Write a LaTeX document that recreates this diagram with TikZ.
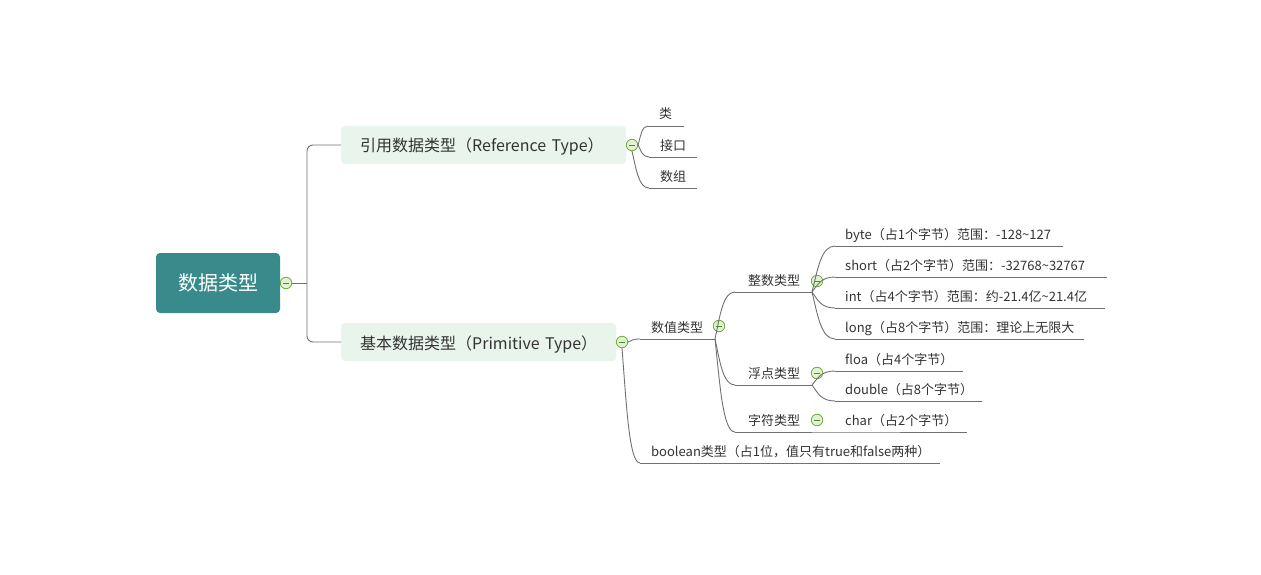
\documentclass[tikz,border=0pt]{standalone}
\usepackage{fontspec}
\setmainfont{Noto Sans CJK SC}
\usetikzlibrary{calc}
\definecolor{rootfill}{HTML}{388B8A}
\definecolor{boxfill}{HTML}{E9F4EC}
\definecolor{linec}{HTML}{707070}
\definecolor{txt}{HTML}{333333}
\definecolor{togline}{HTML}{6BAF3B}
\definecolor{togfill}{HTML}{E2F1D3}
\definecolor{togminus}{HTML}{4E8A2A}
\tikzset{
  conn/.style={draw=linec, line width=0.9pt},
  uline/.style={draw=linec, line width=0.9pt},
  rootbox/.style={rectangle, rounded corners=4pt, fill=rootfill, text=white, minimum width=124pt, minimum height=60pt, inner sep=0pt, font=\fontsize{20}{24}\selectfont},
  topbox/.style={rectangle, rounded corners=4pt, fill=boxfill, text=txt, minimum height=38pt, inner xsep=19pt, inner ysep=0pt, text height=14pt, text depth=0pt, align=left, font=\fontsize{16}{19}\selectfont},
  leaf/.style={anchor=base west, text=txt, inner sep=0pt, font=\fontsize{13}{16}\selectfont},
  tog/.style={circle, draw=togline, fill=togfill, line width=0.8pt, minimum size=11.5pt, inner sep=0pt,
    path picture={\draw[togminus, line width=0.9pt] ([xshift=-3.2pt]path picture bounding box.center) -- ([xshift=3.2pt]path picture bounding box.center);}},
}
\newcommand{\curv}[2]{\draw[conn] let \p1=(#1), \p2=(#2) in (\p1) .. controls ({\x1+0.25*(\x2-\x1)},{\y1+0.5*(\y2-\y1)}) and ({\x1+0.4*(\x2-\x1)},{\y2}) .. (\p2);}
\begin{document}
\begin{tikzpicture}[x=1pt,y=-1pt]
\useasboundingbox (0,0) rectangle (1261,575);
% root
\node[rootbox] (root) at (218,283) {数据类型};
\node[tog] (t0) at (286,283) {};
\coordinate (j0) at (307,283);
% top boxes
\node[topbox, anchor=west, text width=247pt] (ref) at (341,145) {引用数据类型（Reference Type）};
\node[topbox, anchor=west, text width=237pt] (prim) at (341,342) {基本数据类型（Primitive Type）};
\draw[conn] (root.east) -- (t0.west);
\draw[conn] (t0.east) -- (j0);
\draw[conn, rounded corners=6pt] (j0) |- (ref.west);
\draw[conn, rounded corners=6pt] (j0) |- (prim.west);
% reference children
\node[tog] (t1) at (632,145) {};
\coordinate (c1s) at (648,126); \coordinate (c1e) at (684,126);
\coordinate (c2s) at (649,157); \coordinate (c2e) at (697,157);
\coordinate (c3s) at (649,188); \coordinate (c3e) at (697,188);
\curv{t1.east}{c1s} \draw[uline] (c1s) -- (c1e);
\curv{t1.east}{c2s} \draw[uline] (c2s) -- (c2e);
\curv{t1.south}{c3s} \draw[uline] (c3s) -- (c3e);
\node[leaf] (n1) at ($(c1s)+(11,-7)$) {类};
\node[leaf] (n2) at ($(c2s)+(11,-7)$) {接口};
\node[leaf] (n3) at ($(c3s)+(11,-7)$) {数组};
% primitive children
\node[tog] (t2) at (622,342) {};
\coordinate (vs) at (640,339); \coordinate (ve) at (715,339);
\coordinate (bs) at (640,463); \coordinate (be) at (940,463);
\curv{t2.east}{vs} \draw[uline] (vs) -- (ve);
\curv{t2.south}{bs} \draw[uline] (bs) -- (be);
\node[leaf] (nv) at ($(vs)+(11,-7)$) {数值类型};
\node[tog] (t3) at (719,326) {};
\node[leaf] (nb) at ($(bs)+(11,-7)$) {boolean类型（占1位，值只有true和false两种）};
% numeric children
\coordinate (is) at (735,292); \coordinate (ie) at (812,292);
\coordinate (fs) at (735,385); \coordinate (fe) at (812,385);
\coordinate (cs) at (735,432); \coordinate (ce) at (812,432);
\curv{ve}{is} \draw[uline] (is) -- (ie);
\curv{ve}{fs} \draw[uline] (fs) -- (fe);
\curv{ve}{cs} \draw[uline] (cs) -- (ce);
\node[leaf] (ni) at ($(is)+(13,-7)$) {整数类型};
\node[leaf] (nf) at ($(fs)+(13,-7)$) {浮点类型};
\node[leaf] (nc) at ($(cs)+(13,-7)$) {字符类型};
\node[tog] (t4) at (817,281) {};
\node[tog] (t5) at (817,373) {};
\node[tog] (t6) at (817,420) {};
% integer children
\coordinate (i1s) at (835,246); \coordinate (i1e) at (1063,246);
\coordinate (i2s) at (835,277); \coordinate (i2e) at (1107,277);
\coordinate (i3s) at (835,308); \coordinate (i3e) at (1105,308);
\coordinate (i4s) at (835,339); \coordinate (i4e) at (1084,339);
\curv{ie}{i1s} \draw[uline] (i1s) -- (i1e);
\curv{ie}{i2s} \draw[uline] (i2s) -- (i2e);
\curv{ie}{i3s} \draw[uline] (i3s) -- (i3e);
\curv{ie}{i4s} \draw[uline] (i4s) -- (i4e);
\node[leaf] (ni1) at ($(i1s)+(10,-7)$) {byte（占1个字节）范围：-128\textasciitilde127};
\node[leaf] (ni2) at ($(i2s)+(10,-7)$) {short（占2个字节）范围：-32768\textasciitilde32767};
\node[leaf] (ni3) at ($(i3s)+(10,-7)$) {int（占4个字节）范围：约-21.4亿\textasciitilde21.4亿};
\node[leaf] (ni4) at ($(i4s)+(10,-7)$) {long（占8个字节）范围：理论上无限大};
% float children
\coordinate (f1s) at (835,371); \coordinate (f1e) at (963,371);
\coordinate (f2s) at (835,401); \coordinate (f2e) at (982,401);
\curv{fe}{f1s} \draw[uline] (f1s) -- (f1e);
\curv{fe}{f2s} \draw[uline] (f2s) -- (f2e);
\node[leaf] (nf1) at ($(f1s)+(10,-7)$) {floa（占4个字节）};
\node[leaf] (nf2) at ($(f2s)+(10,-7)$) {double（占8个字节）};
% char child
\coordinate (ch1s) at (835,432); \coordinate (ch1e) at (967,432);
\draw[uline] (ce) -- (ch1s) -- (ch1e);
\node[leaf] (nch) at ($(ch1s)+(10,-7)$) {char（占2个字节）};
\end{tikzpicture}
\end{document}
